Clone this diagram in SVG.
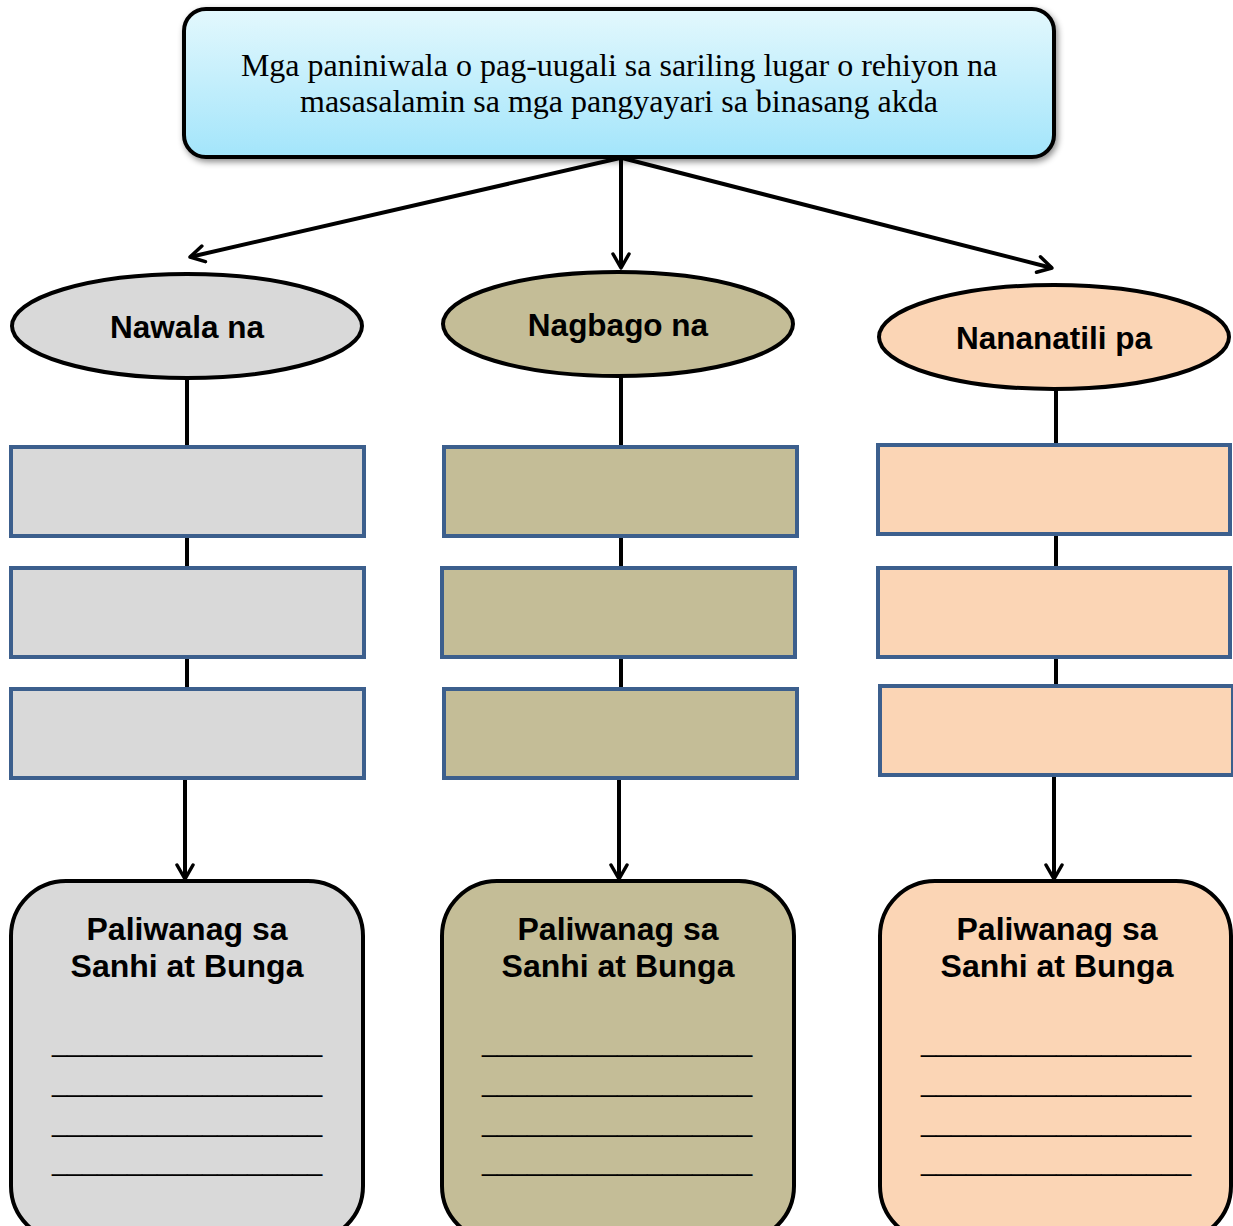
<svg xmlns="http://www.w3.org/2000/svg" width="1233" height="1226" viewBox="0 0 1233 1226">
<defs>
<linearGradient id="g" x1="0" y1="0" x2="0" y2="1">
<stop offset="0" stop-color="#e3f8fd"/>
<stop offset="1" stop-color="#a3e5fb"/>
</linearGradient>
<filter id="sh" x="-5%" y="-10%" width="110%" height="130%">
<feDropShadow dx="2" dy="3" stdDeviation="3" flood-color="#000" flood-opacity="0.45"/>
</filter>
<marker id="ah" viewBox="0 0 20 20" refX="18" refY="10" markerWidth="20" markerHeight="20" markerUnits="userSpaceOnUse" orient="auto">
<path d="M4,2 L18,10 L4,18" fill="none" stroke="#000" stroke-width="3.5" stroke-linecap="round" stroke-linejoin="round"/>
</marker>
</defs>
<style>
.ell{stroke:#000;stroke-width:4}
.rect{stroke:#3c5f8d;stroke-width:4}
.rb{stroke:#000;stroke-width:4}
.lbl{font-family:"Liberation Sans",Arial,sans-serif;font-weight:bold;font-size:31.5px;fill:#000;text-anchor:middle}
.ttl{font-family:"Liberation Sans",Arial,sans-serif;font-weight:bold;font-size:32px;fill:#000;text-anchor:middle}
.ul{font-family:"Liberation Sans",Arial,sans-serif;font-size:27px;fill:#000}
.c{stroke:#000;stroke-width:4;fill:none}
.gray{fill:#d9d9d9}.tan{fill:#c4bd97}.peach{fill:#fbd5b5}
</style>
<g id="connectors">
<line class="c" x1="620" y1="158" x2="190" y2="257" marker-end="url(#ah)"/>
<line class="c" x1="621" y1="158" x2="621" y2="268" marker-end="url(#ah)"/>
<line class="c" x1="622" y1="158" x2="1052" y2="268" marker-end="url(#ah)"/>
<line class="c" x1="187" y1="378" x2="187" y2="447"/>
<line class="c" x1="187" y1="536" x2="187" y2="568"/>
<line class="c" x1="187" y1="657" x2="187" y2="689"/>
<line class="c" x1="185" y1="778" x2="185" y2="879" marker-end="url(#ah)"/>
<line class="c" x1="621" y1="376" x2="621" y2="447"/>
<line class="c" x1="621" y1="536" x2="621" y2="568"/>
<line class="c" x1="621" y1="657" x2="621" y2="689"/>
<line class="c" x1="619" y1="778" x2="619" y2="879" marker-end="url(#ah)"/>
<line class="c" x1="1056" y1="390" x2="1056" y2="445"/>
<line class="c" x1="1056" y1="534" x2="1056" y2="568"/>
<line class="c" x1="1056" y1="657" x2="1056" y2="686"/>
<line class="c" x1="1054" y1="775" x2="1054" y2="879" marker-end="url(#ah)"/>
</g>
<g id="top">
<rect x="184" y="9" width="870" height="148" rx="22" fill="url(#g)" stroke="#000" stroke-width="4" filter="url(#sh)"/>
<text font-family="'Liberation Serif','Times New Roman',serif" font-size="32" text-anchor="middle" fill="#000"><tspan x="619" y="76">Mga paniniwala o pag-uugali sa sariling lugar o rehiyon na</tspan><tspan x="619" y="112">masasalamin sa mga pangyayari sa binasang akda</tspan></text>
</g>
<g id="e1"><ellipse class="ell gray" cx="187" cy="326" rx="175" ry="52"/><text class="lbl" x="187" y="338">Nawala na</text></g>
<g id="e2"><ellipse class="ell tan" cx="618" cy="324" rx="175" ry="52"/><text class="lbl" x="618" y="336">Nagbago na</text></g>
<g id="e3"><ellipse class="ell peach" cx="1054" cy="337" rx="175" ry="52"/><text class="lbl" x="1054" y="349">Nananatili pa</text></g>
<g id="r1a"><rect class="rect gray" x="11" y="447" width="353" height="89"/></g>
<g id="r1b"><rect class="rect gray" x="11" y="568" width="353" height="89"/></g>
<g id="r1c"><rect class="rect gray" x="11" y="689" width="353" height="89"/></g>
<g id="r2a"><rect class="rect tan" x="444" y="447" width="353" height="89"/></g>
<g id="r2b"><rect class="rect tan" x="442" y="568" width="353" height="89"/></g>
<g id="r2c"><rect class="rect tan" x="444" y="689" width="353" height="89"/></g>
<g id="r3a"><rect class="rect peach" x="878" y="445" width="352" height="89"/></g>
<g id="r3b"><rect class="rect peach" x="878" y="568" width="352" height="89"/></g>
<g id="r3c"><rect class="rect peach" x="880" y="686" width="353" height="89"/></g>
<g id="b1"><rect class="rb gray" x="11" y="881" width="352" height="360" rx="55"/>
<text class="ttl" x="187" y="940">Paliwanag sa</text><text class="ttl" x="187" y="977">Sanhi at Bunga</text>
<text class="ul" x="52" y="1051">__________________</text><text class="ul" x="52" y="1091">__________________</text><text class="ul" x="52" y="1131">__________________</text><text class="ul" x="52" y="1170">__________________</text></g>
<g id="b2"><rect class="rb tan" x="442" y="881" width="352" height="360" rx="55"/>
<text class="ttl" x="618" y="940">Paliwanag sa</text><text class="ttl" x="618" y="977">Sanhi at Bunga</text>
<text class="ul" x="482" y="1051">__________________</text><text class="ul" x="482" y="1091">__________________</text><text class="ul" x="482" y="1131">__________________</text><text class="ul" x="482" y="1170">__________________</text></g>
<g id="b3"><rect class="rb peach" x="880" y="881" width="351" height="360" rx="55"/>
<text class="ttl" x="1057" y="940">Paliwanag sa</text><text class="ttl" x="1057" y="977">Sanhi at Bunga</text>
<text class="ul" x="921" y="1051">__________________</text><text class="ul" x="921" y="1091">__________________</text><text class="ul" x="921" y="1131">__________________</text><text class="ul" x="921" y="1170">__________________</text></g>
</svg>
